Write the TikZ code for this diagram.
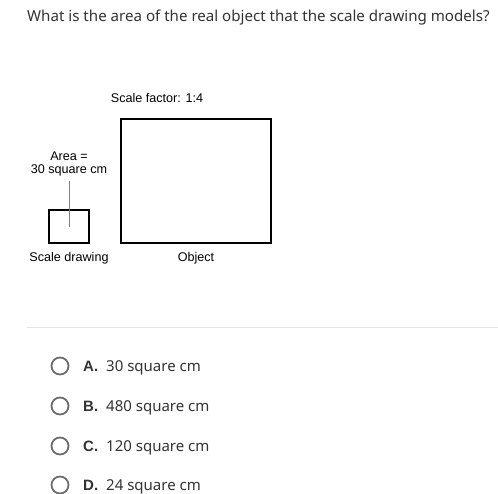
\documentclass[tikz,border=0pt]{standalone}
\usepackage{fontspec}
\setmainfont{Noto Sans}
\newfontfamily\figfont{Liberation Sans}
\usetikzlibrary{positioning}

\definecolor{txtgray}{HTML}{333333}
\definecolor{rulegray}{HTML}{E3E3E3}
\definecolor{radiogray}{HTML}{6E6E6E}

\tikzset{
    figlabel/.style={font=\figfont\fontsize{12.6}{13.5}\selectfont, inner sep=0pt, align=center},
    shapebox/.style={draw, line width=2pt},
    radio/.style={circle, draw=radiogray, line width=1.8pt, minimum size=17pt, inner sep=0pt},
    choice/.style={anchor=base west, inner sep=0pt, text=txtgray, font=\fontsize{15}{17}\selectfont},
}
\newcommand{\optkey}[1]{{\figfont\bfseries #1}}

\begin{document}
\begin{tikzpicture}[x=1pt, y=-1pt]
    \useasboundingbox[fill=white] (0,0) rectangle (498,494);

    % question
    \node (q) at (27,22) [anchor=base west, inner sep=0pt, text=txtgray, font=\fontsize{15.1}{18}\selectfont] {What is the area of the real object that the scale drawing models?};

    % the two figures
    \draw[shapebox] (121,119) rectangle (271,243);
    \draw[shapebox] (49,210) rectangle (89,243);
    \node (sf) at (157,98) [figlabel] {Scale factor: 1:4};
    \node (area) at (69,164) [figlabel] {Area =\\30 square cm};
    \coordinate (inbox) at (69,227);
    \draw[gray, line width=0.8pt] (69,181) -- (inbox);
    \node (sd) at (69,258) [figlabel] {Scale drawing};
    \node (obj) at (196,258) [figlabel] {Object};

    \draw[rulegray, line width=1pt] (27,328) -- (498,328);

    % answer choices
    \node (ra) at (60,366) [radio] {};
    \node (rb) at (60,406) [radio] {};
    \node (rc) at (60,446) [radio] {};
    \node (rd) at (60,485) [radio] {};

    \node (la) at (83,371) [choice] {\optkey{A.}\hspace{8pt}30 square cm};
    \node (lb) at (83,411) [choice] {\optkey{B.}\hspace{8pt}480 square cm};
    \node (lc) at (83,451) [choice] {\optkey{C.}\hspace{8pt}120 square cm};
    \node (ld) at (83,490) [choice] {\optkey{D.}\hspace{8pt}24 square cm};

\end{tikzpicture}
\end{document}
